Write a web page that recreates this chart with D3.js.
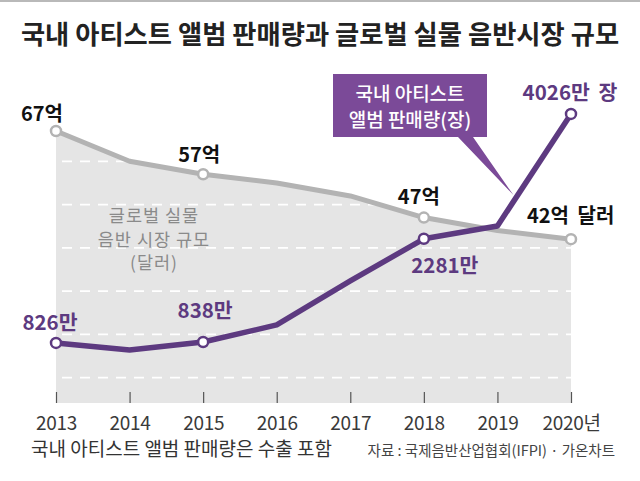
<!DOCTYPE html>
<html><head><meta charset="utf-8">
<script src="https://cdn.jsdelivr.net/npm/d3@7/dist/d3.min.js"></script>
<style>
html,body{margin:0;padding:0;background:#fff;}
svg{display:block;font-family:"Noto Sans CJK KR","Noto Sans",sans-serif;}
</style></head>
<body><svg id="c" width="640" height="481"></svg>
<script>
const years = [2013, 2014, 2015, 2016, 2017, 2018, 2019, 2020];
const yearLabels = ["2013", "2014", "2015", "2016", "2017", "2018", "2019", "2020년"];
const globalMarket = [67, 60, 57, 55, 52, 47, 44, 42];        // 억 달러
const albumSales = [826, 728, 838, 1077, 1692, 2281, 2460, 4026]; // 만 장
const grayLabels = [
  {i: 0, t: "67억", dx: -14, dy: -10, anchor: "middle"},
  {i: 2, t: "57억", dx: -4, dy: -12, anchor: "middle"},
  {i: 5, t: "47억", dx: -5, dy: -14, anchor: "middle"},
  {i: 7, t: "42억 달러", dx: -44, dy: -16, anchor: "start"}
];
const purpleLabels = [
  {i: 0, t: "826만", dx: -6, dy: -13, anchor: "middle"},
  {i: 2, t: "838만", dx: 2, dy: -24, anchor: "middle"},
  {i: 5, t: "2281만", dx: 21, dy: 34, anchor: "middle"},
  {i: 7, t: "4026만 장", dx: -1, dy: -14, anchor: "middle"}
];
const gridValues = [10, 20, 30, 40, 50, 60];
const annotationLines = ["글로벌 실물", "음반 시장 규모", "(달러)"];
const calloutLines = ["국내 아티스트", "앨범 판매량(장)"];

const svg = d3.select("#c");
const x = d3.scalePoint().domain(years).range([56, 571]);
const yG = d3.scaleLinear().domain([0, 70]).range([421, 118]);
const yP = d3.scaleLinear().domain([0, 4500]).range([402, 80]);
const bottom = 403;
const purple = "#5d3a80";
const gray = "#b3b3b3";

// top border
svg.append("rect").attr("x", 0).attr("y", 0).attr("width", 640).attr("height", 2).attr("fill", "#b9b9b9");

// title
svg.append("text").attr("x", 320).attr("y", 44).attr("text-anchor", "middle")
  .attr("font-size", 26.3).attr("font-weight", 700).attr("fill", "#222")
  .text("국내 아티스트 앨범 판매량과 글로벌 실물 음반시장 규모");

// area
const area = d3.area().x((d, i) => x(years[i])).y0(bottom).y1(d => yG(d));
svg.append("path").datum(globalMarket).attr("d", area).attr("fill", "#e5e5e5");

// gridlines
svg.append("g").selectAll("line").data(gridValues).join("line")
  .attr("x1", x(2013) + 6).attr("x2", x(2020)).attr("y1", d => yG(d)).attr("y2", d => yG(d))
  .attr("stroke", "#fff").attr("stroke-width", 1.8).attr("stroke-dasharray", "10,8");

// x axis ticks
const xAxis = d3.axisBottom(x).tickSize(11).tickFormat((d, i) => yearLabels[i]);
const gx = svg.append("g").attr("transform", `translate(0,${bottom - 11})`).call(xAxis);
gx.select(".domain").remove();
gx.selectAll(".tick line").attr("stroke", "#555").attr("stroke-width", 1.2);
gx.selectAll(".tick text").attr("y", 25).attr("font-size", 19).attr("fill", "#3a3a3a")
  .attr("font-family", "'Noto Sans CJK KR'").attr("letter-spacing", -0.3);

// annotation in area
svg.append("g").selectAll("text").data(annotationLines).join("text")
  .attr("x", 154).attr("y", (d, k) => 222 + k * 23.5)
  .attr("text-anchor", "middle").attr("font-size", 17.5).attr("letter-spacing", 1)
  .attr("fill", "#8a8a8a").text(d => d);

// gray line
const lineG = d3.line().x((d, i) => x(years[i])).y(d => yG(d));
svg.append("path").datum(globalMarket).attr("d", lineG).attr("fill", "none")
  .attr("stroke", gray).attr("stroke-width", 5).attr("stroke-linejoin", "round");
svg.append("g").selectAll("circle").data(grayLabels).join("circle")
  .attr("cx", d => x(years[d.i])).attr("cy", d => yG(globalMarket[d.i])).attr("r", 5)
  .attr("fill", "#fff").attr("stroke", gray).attr("stroke-width", 2.5);

// callout
const bx0 = 333, bx1 = 487, by0 = 74, by1 = 137;
svg.append("path")
  .attr("d", `M${bx0},${by0}H${bx1}V${by1}H473L${x(2019) + 16},${yG(52.2)}L458,${by1}H${bx0}Z`)
  .attr("fill", "#7b4a98");
svg.append("g").selectAll("text").data(calloutLines).join("text")
  .attr("x", (bx0 + bx1) / 2).attr("y", (d, k) => 101 + k * 26)
  .attr("text-anchor", "middle").attr("font-size", 19).attr("font-weight", 500)
  .attr("fill", "#fff").text(d => d);

// purple line
const lineP = d3.line().x((d, i) => x(years[i])).y(d => yP(d));
svg.append("path").datum(albumSales).attr("d", lineP).attr("fill", "none")
  .attr("stroke", purple).attr("stroke-width", 5.5).attr("stroke-linejoin", "round");
svg.append("g").selectAll("circle").data(purpleLabels).join("circle")
  .attr("cx", d => x(years[d.i])).attr("cy", d => yP(albumSales[d.i])).attr("r", 5)
  .attr("fill", "#fff").attr("stroke", purple).attr("stroke-width", 2.5);

// labels
svg.append("g").selectAll("text").data(grayLabels).join("text")
  .attr("x", d => x(years[d.i]) + d.dx).attr("y", d => yG(globalMarket[d.i]) + d.dy)
  .attr("text-anchor", d => d.anchor).attr("font-size", 20).attr("font-weight", 700)
  .attr("fill", "#111").attr("word-spacing", 4).text(d => d.t);
svg.append("g").selectAll("text").data(purpleLabels).join("text")
  .attr("x", d => x(years[d.i]) + d.dx).attr("y", d => yP(albumSales[d.i]) + d.dy)
  .attr("text-anchor", d => d.anchor).attr("font-size", 20.5).attr("font-weight", 700)
  .attr("fill", purple).attr("word-spacing", 4).text(d => d.t);

// footer
svg.append("text").attr("x", 31).attr("y", 456).attr("font-size", 19).attr("fill", "#333")
  .text("국내 아티스트 앨범 판매량은 수출 포함");
svg.append("text").attr("x", 615).attr("y", 456).attr("text-anchor", "end").attr("font-size", 14.5)
  .attr("fill", "#444")
  .text("자료 : 국제음반산업협회(IFPI) · 가온차트");
</script></body></html>
